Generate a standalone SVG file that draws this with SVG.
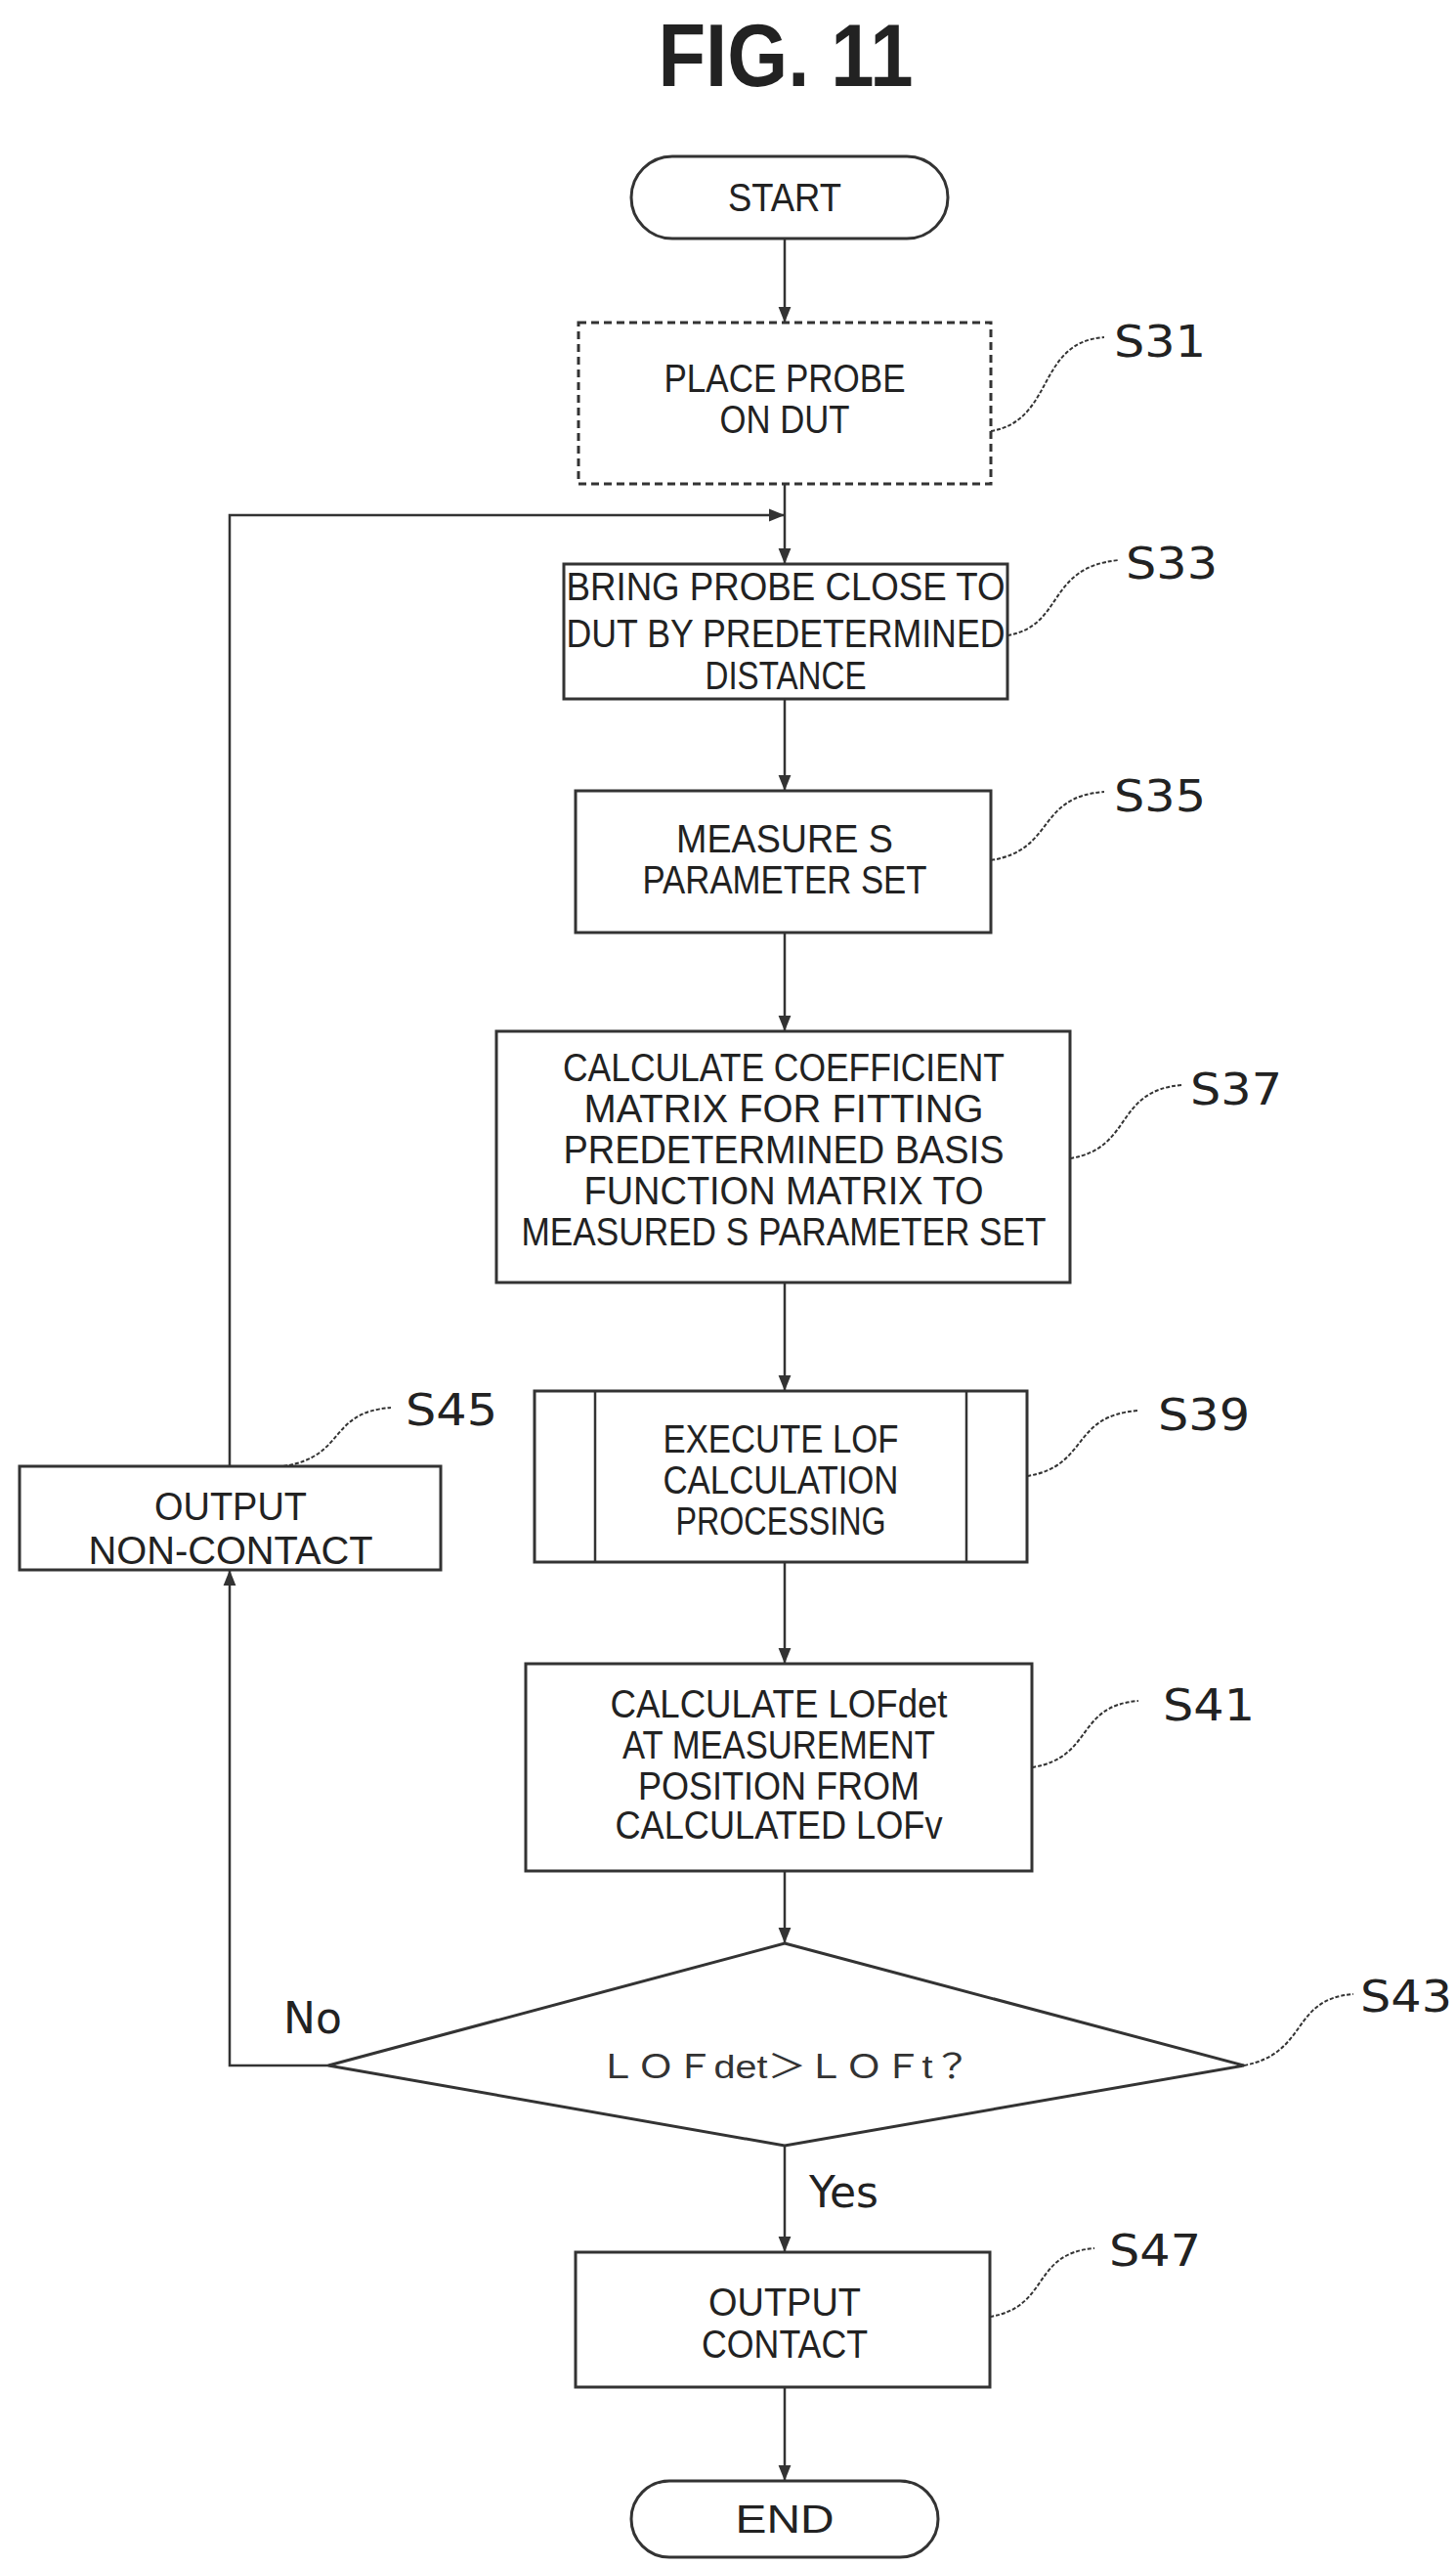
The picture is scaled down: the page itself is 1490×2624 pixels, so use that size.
<svg xmlns="http://www.w3.org/2000/svg" width="1490" height="2624" viewBox="0 0 1490 2624">
<style>
.box{fill:#fff;stroke:#333;stroke-width:3}
.t{font-family:"Liberation Sans",Arial,sans-serif;font-size:40px;fill:#222;text-anchor:middle}
.lbl{font-family:"DejaVu Sans","Liberation Sans",sans-serif;font-size:44px;fill:#222}
.ld{fill:none;stroke:#333;stroke-width:2;stroke-dasharray:4 2}
.c{fill:none;stroke:#333;stroke-width:2.5}
</style>
<defs>
<marker id="ah" viewBox="0 0 10 10" refX="10" refY="5" markerWidth="20" markerHeight="16" orient="auto" markerUnits="userSpaceOnUse"><path d="M0,1 L10,5 L0,9 z" fill="#333"/></marker>
</defs>
<text x="804" y="88" font-family="Liberation Sans,Arial,sans-serif" font-size="90" font-weight="bold" text-anchor="middle" fill="#222" textLength="261" lengthAdjust="spacingAndGlyphs">FIG. 11</text>

<g id="connectors">
<path class="c" d="M803,244 V330" marker-end="url(#ah)"/>
<path class="c" d="M803,495 V577" marker-end="url(#ah)"/>
<path class="c" d="M235,1500 V527 H803" marker-end="url(#ah)"/>
<path class="c" d="M803,715 V809" marker-end="url(#ah)"/>
<path class="c" d="M803,954 V1055" marker-end="url(#ah)"/>
<path class="c" d="M803,1312 V1423" marker-end="url(#ah)"/>
<path class="c" d="M803,1598 V1702" marker-end="url(#ah)"/>
<path class="c" d="M803,1914 V1988" marker-end="url(#ah)"/>
<path class="c" d="M803,2195 V2304" marker-end="url(#ah)"/>
<path class="c" d="M803,2442 V2538" marker-end="url(#ah)"/>
<path class="c" d="M336,2113 H235 V1606" marker-end="url(#ah)"/>
<text class="lbl" x="290" y="2080" font-size="36">No</text>
<text class="lbl" x="828" y="2258" font-size="36">Yes</text>
</g>

<g id="start">
<rect class="box" x="646" y="160" width="324" height="84" rx="42"/>
<text class="t" x="803" y="216" textLength="116" lengthAdjust="spacingAndGlyphs">START</text>
</g>

<g id="s31">
<rect class="box" x="592" y="330" width="422" height="165" stroke-dasharray="8 5"/>
<text class="t" x="803" y="401" textLength="247" lengthAdjust="spacingAndGlyphs">PLACE PROBE</text>
<text class="t" x="803" y="443" textLength="133" lengthAdjust="spacingAndGlyphs">ON DUT</text>
<path class="ld" d="M1014,441 C1080,430 1060,350 1130,345"/>
<text class="lbl" x="1140" y="365" textLength="94" lengthAdjust="spacingAndGlyphs">S31</text>
</g>

<g id="s33">
<rect class="box" x="577" y="577" width="454" height="138"/>
<text class="t" x="804" y="614" textLength="449" lengthAdjust="spacingAndGlyphs">BRING PROBE CLOSE TO</text>
<text class="t" x="804" y="662" textLength="449" lengthAdjust="spacingAndGlyphs">DUT BY PREDETERMINED</text>
<text class="t" x="804" y="705" textLength="165" lengthAdjust="spacingAndGlyphs">DISTANCE</text>
<path class="ld" d="M1031,650 C1090,640 1070,580 1145,573"/>
<text class="lbl" x="1152" y="592" textLength="94" lengthAdjust="spacingAndGlyphs">S33</text>
</g>

<g id="s35">
<rect class="box" x="589" y="809" width="425" height="145"/>
<text class="t" x="803" y="872" textLength="222" lengthAdjust="spacingAndGlyphs">MEASURE S</text>
<text class="t" x="803" y="914" textLength="291" lengthAdjust="spacingAndGlyphs">PARAMETER SET</text>
<path class="ld" d="M1014,880 C1080,870 1060,815 1130,810"/>
<text class="lbl" x="1140" y="830" textLength="94" lengthAdjust="spacingAndGlyphs">S35</text>
</g>

<g id="s37">
<rect class="box" x="508" y="1055" width="587" height="257"/>
<text class="t" x="802" y="1106" textLength="452" lengthAdjust="spacingAndGlyphs">CALCULATE COEFFICIENT</text>
<text class="t" x="802" y="1148" textLength="409" lengthAdjust="spacingAndGlyphs">MATRIX FOR FITTING</text>
<text class="t" x="802" y="1190" textLength="451" lengthAdjust="spacingAndGlyphs">PREDETERMINED BASIS</text>
<text class="t" x="802" y="1232" textLength="409" lengthAdjust="spacingAndGlyphs">FUNCTION MATRIX TO</text>
<text class="t" x="802" y="1274" textLength="537" lengthAdjust="spacingAndGlyphs">MEASURED S PARAMETER SET</text>
<path class="ld" d="M1095,1185 C1160,1175 1140,1115 1210,1110"/>
<text class="lbl" x="1218" y="1130" textLength="94" lengthAdjust="spacingAndGlyphs">S37</text>
</g>

<g id="s39">
<rect class="box" x="547" y="1423" width="504" height="175"/>
<line class="c" x1="609" y1="1423" x2="609" y2="1598"/>
<line class="c" x1="989" y1="1423" x2="989" y2="1598"/>
<text class="t" x="799" y="1486" textLength="241" lengthAdjust="spacingAndGlyphs">EXECUTE LOF</text>
<text class="t" x="799" y="1528" textLength="241" lengthAdjust="spacingAndGlyphs">CALCULATION</text>
<text class="t" x="799" y="1570" textLength="215" lengthAdjust="spacingAndGlyphs">PROCESSING</text>
<path class="ld" d="M1051,1510 C1115,1500 1095,1448 1165,1443"/>
<text class="lbl" x="1185" y="1463" textLength="94" lengthAdjust="spacingAndGlyphs">S39</text>
</g>

<g id="s45">
<rect class="box" x="20" y="1500" width="431" height="106"/>
<text class="t" x="236" y="1555" textLength="156" lengthAdjust="spacingAndGlyphs">OUTPUT</text>
<text class="t" x="236" y="1600" textLength="291" lengthAdjust="spacingAndGlyphs">NON-CONTACT</text>
<path class="ld" d="M290,1500 C355,1490 335,1445 400,1440"/>
<text class="lbl" x="415" y="1458" textLength="94" lengthAdjust="spacingAndGlyphs">S45</text>
</g>

<g id="s41">
<rect class="box" x="538" y="1702" width="518" height="212"/>
<text class="t" x="797" y="1757" textLength="345" lengthAdjust="spacingAndGlyphs">CALCULATE LOFdet</text>
<text class="t" x="797" y="1799" textLength="320" lengthAdjust="spacingAndGlyphs">AT MEASUREMENT</text>
<text class="t" x="797" y="1841" textLength="288" lengthAdjust="spacingAndGlyphs">POSITION FROM</text>
<text class="t" x="797" y="1881" textLength="335" lengthAdjust="spacingAndGlyphs">CALCULATED LOFv</text>
<path class="ld" d="M1056,1808 C1120,1798 1100,1745 1165,1740"/>
<text class="lbl" x="1190" y="1760" textLength="94" lengthAdjust="spacingAndGlyphs">S41</text>
</g>

<g id="s43">
<polygon class="box" points="803,1988 1273,2113 803,2195 336,2113"/>
<text x="803" y="2126" font-family="Liberation Sans,'Noto Sans CJK JP',sans-serif" font-size="34" fill="#333" text-anchor="middle" textLength="382" lengthAdjust="spacingAndGlyphs">ＬＯＦdet＞ＬＯＦt？</text>
<path class="ld" d="M1273,2113 C1340,2100 1320,2045 1385,2040"/>
<text class="lbl" x="1392" y="2058" textLength="94" lengthAdjust="spacingAndGlyphs">S43</text>
</g>

<g id="s47">
<rect class="box" x="589" y="2304" width="424" height="138"/>
<text class="t" x="803" y="2369" textLength="156" lengthAdjust="spacingAndGlyphs">OUTPUT</text>
<text class="t" x="803" y="2412" textLength="170" lengthAdjust="spacingAndGlyphs">CONTACT</text>
<path class="ld" d="M1013,2370 C1075,2360 1055,2305 1120,2300"/>
<text class="lbl" x="1135" y="2318" textLength="94" lengthAdjust="spacingAndGlyphs">S47</text>
</g>

<g id="end">
<rect class="box" x="646" y="2538" width="314" height="78" rx="39"/>
<text class="t" x="803" y="2591" textLength="101" lengthAdjust="spacingAndGlyphs">END</text>
</g>
</svg>
